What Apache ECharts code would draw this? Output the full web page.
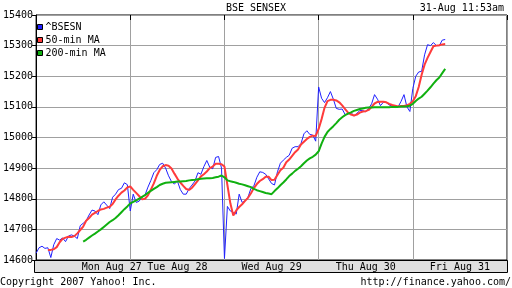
<!DOCTYPE html>
<html><head><meta charset="utf-8">
<script src="https://cdn.jsdelivr.net/npm/echarts@6/dist/echarts.min.js"></script>
<style>html,body{margin:0;padding:0;background:#fff}#c{width:512px;height:288px}</style>
</head><body><div id="c"></div>
<script>
const chartTitle = 'BSE SENSEX';
const stamp = '31-Aug 11:53am';
const copyright = 'Copyright 2007 Yahoo! Inc.';
const source = 'http://finance.yahoo.com/';
const seriesNames = ['^BSESN', '50-min MA', '200-min MA'];
const dayLabels = ['Mon Aug 27', 'Tue Aug 28', 'Wed Aug 29', 'Thu Aug 30', 'Fri Aug 31'];
const dayLabelAt = [25.7, 48, 80, 112, 144];
const slotsPerDay = 32;
const tradingDays = 5;
const yMin = 14600, yMax = 15400, yStep = 100;

const bsesn = [
 14622,14640,14645,14638,14640,14608,14650,14670,14665,14672,14660,14678,14682,14678,14670,14712,14720,14728,14747,14763,14760,14748,14780,14790,14779,14768,14805,14815,14830,14834,14852,14846,
 14760,14815,14788,14792,14805,14812,14838,14860,14885,14895,14912,14916,14900,14875,14856,14848,14858,14830,14815,14815,14833,14845,14858,14885,14880,14905,14925,14903,14898,14935,14938,14900,
 14605,14775,14760,14755,14750,14815,14788,14793,14805,14834,14842,14870,14888,14886,14880,14865,14850,14845,14888,14916,14926,14935,14942,14965,14970,14970,14980,15012,15022,15010,15008,14988,
 15165,15128,15114,15130,15150,15125,15095,15092,15093,15075,15077,15082,15070,15079,15088,15088,15084,15095,15110,15140,15125,15104,15115,15114,15106,15102,15098,15100,15118,15140,15100,15085,
 15160,15200,15214,15216,15270,15303,15300,15310,15300,15300,15318,15320
];
const ma50 = [
 null,null,null,null,
 14633,14633,14635,14642,14658,14669,14673,14676,14675,14678,14687,14698,14709,14728,14737,14748,14754,14760,14765,14767,14771,14774,14783,14798,14810,14820,14827,14837,
 14840,14829,14819,14809,14798,14800,14811,14830,14850,14875,14894,14906,14910,14908,14899,14882,14866,14853,14842,14832,14829,14836,14848,14860,14873,14880,14889,14900,14905,14914,14914,14913,
 14905,14845,14785,14745,14762,14773,14782,14793,14803,14818,14835,14848,14858,14864,14872,14872,14861,14862,14878,14893,14901,14919,14928,14940,14952,14961,14977,14986,14995,15002,15006,15005,
 15028,15060,15097,15119,15123,15123,15121,15115,15105,15093,15081,15075,15072,15075,15081,15085,15086,15090,15100,15111,15116,15117,15117,15115,15110,15106,15104,15101,15103,15103,15105,15110,
 15118,15135,15165,15205,15238,15260,15279,15298,15300,15301,15304,15305
];
const ma200 = [
 null,null,null,null,null,null,null,null,null,null,null,null,null,null,null,null,
 14660,14666,14673,14680,14686,14693,14700,14708,14716,14724,14730,14737,14746,14756,14766,14775,
 14785,14790,14795,14800,14806,14812,14819,14826,14832,14838,14845,14849,14852,14853,14854,14855,14856,14856,14857,14858,14860,14861,14862,14864,14865,14866,14867,14867,14868,14870,14872,14876,
 14870,14860,14857,14855,14852,14849,14847,14844,14841,14838,14832,14828,14825,14822,14819,14817,14815,14825,14834,14844,14853,14863,14874,14882,14891,14898,14906,14916,14925,14932,14937,14944,
 14955,14980,15002,15018,15028,15037,15047,15058,15066,15073,15078,15082,15087,15090,15093,15095,15097,15098,15098,15099,15099,15099,15099,15099,15099,15100,15100,15100,15101,15101,15102,15104,
 15110,15119,15127,15133,15143,15153,15164,15176,15187,15196,15210,15224
];

const FONT = 'DejaVu Sans Mono';
const toPairs = arr => arr.map((v, i) => [i, v]);
const xMax = slotsPerDay * tradingDays;

const chart = echarts.init(document.getElementById('c'), null, {renderer: 'canvas'});
chart.setOption({
  animation: false,
  backgroundColor: '#fff',
  textStyle: {fontFamily: FONT},
  title: [
    {text: chartTitle, left: 'center', top: 3, padding: 0, textStyle: {fontFamily: FONT, fontSize: 10, fontWeight: 'normal', color: '#000'}},
    {text: stamp, right: 8, top: 3, padding: 0, textStyle: {fontFamily: FONT, fontSize: 10, fontWeight: 'normal', color: '#000'}},
    {text: copyright, left: 0, top: 277, padding: 0, textStyle: {fontFamily: FONT, fontSize: 10, fontWeight: 'normal', color: '#000'}},
    {text: source, right: 1, top: 277, padding: 0, textStyle: {fontFamily: FONT, fontSize: 10, fontWeight: 'normal', color: '#000'}}
  ],
  legend: {
    data: seriesNames, orient: 'vertical', left: 37, top: 22, padding: 0,
    icon: 'rect', itemWidth: 5, itemHeight: 5, itemGap: 3,
    itemStyle: {borderColor: '#000', borderWidth: 1},
    textStyle: {fontFamily: FONT, fontSize: 10, color: '#000', padding: [0, 0, 0, -2]}
  },
  grid: {left: 34, right: 5, top: 15, bottom: 28, show: true, borderColor: '#000', borderWidth: 1, backgroundColor: '#fff'},
  graphic: {elements: [
    {type: 'rect', z: -1, shape: {x: 34.5, y: 260.5, width: 473, height: 12}, style: {fill: '#e0e0e0', stroke: '#000', lineWidth: 1}}
  ]},
  xAxis: [
    {type: 'value', min: 0, max: xMax, interval: slotsPerDay, position: 'bottom',
     axisLine: {show: true, lineStyle: {color: '#000'}}, axisTick: {show: false}, axisLabel: {show: false},
     splitLine: {show: true, lineStyle: {color: '#a0a0a0', width: 1}}},
    {type: 'value', min: 0, max: xMax, position: 'bottom', offset: 0,
     axisLine: {show: false}, axisTick: {show: false}, splitLine: {show: false},
     axisLabel: {show: true, customValues: dayLabelAt, margin: 2, fontFamily: FONT, fontSize: 10, color: '#000',
       formatter: v => { const k = dayLabelAt.indexOf(v); return k >= 0 ? dayLabels[k] : ''; }}},
    {type: 'value', min: 0, max: xMax, interval: slotsPerDay, position: 'top',
     axisLine: {show: false}, axisLabel: {show: false}, splitLine: {show: false},
     axisTick: {show: true, inside: true, length: 5, lineStyle: {color: '#000'}}}
  ],
  yAxis: [
    {type: 'value', min: yMin, max: yMax, interval: yStep, position: 'left',
     axisLine: {show: true, lineStyle: {color: '#000'}}, axisTick: {show: false},
     axisLabel: {margin: 3, fontFamily: FONT, fontSize: 10, color: '#000', formatter: v => String(v)},
     splitLine: {show: true, lineStyle: {color: '#a0a0a0', width: 1}}},
    {type: 'value', min: yMin, max: yMax, interval: yStep, position: 'right',
     axisLine: {show: false}, axisLabel: {show: false}, splitLine: {show: false},
     axisTick: {show: true, inside: true, length: 4, lineStyle: {color: '#000'}}}
  ],
  series: [
    {name: seriesNames[0], type: 'line', data: toPairs(bsesn), showSymbol: false, symbol: 'none',
     color: '#2020ff', lineStyle: {width: 1, color: '#2020ff'}, z: 3},
    {name: seriesNames[1], type: 'line', data: toPairs(ma50), showSymbol: false, symbol: 'none',
     color: '#ff3b3b', lineStyle: {width: 2, color: '#ff3b3b'}, z: 4},
    {name: seriesNames[2], type: 'line', data: toPairs(ma200), showSymbol: false, symbol: 'none',
     color: '#10b010', lineStyle: {width: 2, color: '#10b010'}, z: 5}
  ]
});
</script></body></html>
